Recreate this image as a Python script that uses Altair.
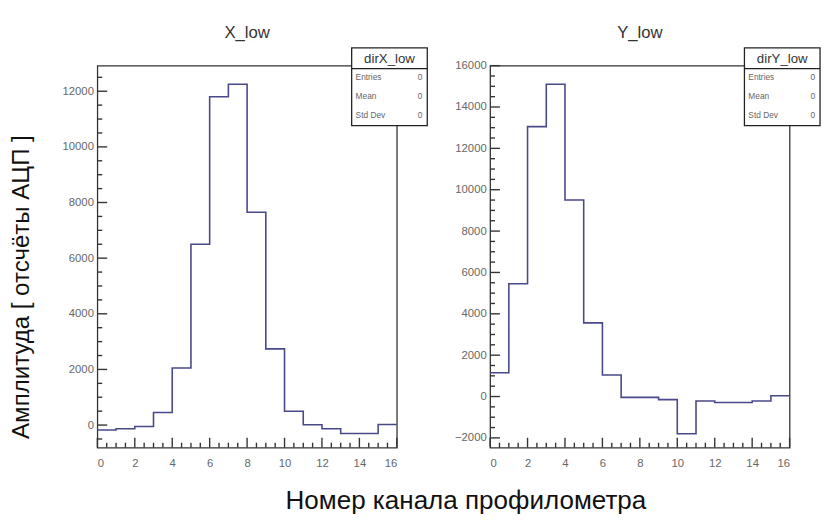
import altair as alt
import pandas as pd

# ---- data ----
edges = list(range(17))  # bin edges 0..16
x_low = [-180, -130, -50, 450, 2050, 6500, 11800, 12250, 7650, 2740, 500, 10, -130, -300, -300, 20]
y_low = [1150, 5450, 13050, 15100, 9500, 3560, 1040, -40, -40, -150, -1800, -220, -285, -285, -220, 40]

panel_titles = ["X_low", "Y_low"]
box_titles = ["dirX_low", "dirY_low"]
stat_names = ["Entries", "Mean", "Std Dev"]
stat_values = ["0", "0", "0"]

x_domain = [0, 16]
x_major = [0, 2, 4, 6, 8, 10, 12, 14, 16]
x_minor = [0.5, 1, 1.5, 2.5, 3, 3.5, 4.5, 5, 5.5, 6.5, 7, 7.5, 8.5, 9, 9.5,
           10.5, 11, 11.5, 12.5, 13, 13.5, 14.5, 15, 15.5]

left_domain = [-810, 12920]
left_major = [0, 2000, 4000, 6000, 8000, 10000, 12000]
left_minor = [-500, 500, 1000, 1500, 2500, 3000, 3500, 4500, 5000, 5500, 6500, 7000,
              7500, 8500, 9000, 9500, 10500, 11000, 11500, 12500]

right_domain = [-2470, 16000]
right_major = [-2000, 0, 2000, 4000, 6000, 8000, 10000, 12000, 14000, 16000]
right_minor = [-1500, -1000, -500, 500, 1000, 1500, 2500, 3000, 3500, 4500, 5000, 5500,
               6500, 7000, 7500, 8500, 9000, 9500, 10500, 11000, 11500, 12500, 13000,
               13500, 14500, 15000, 15500]

W, H = 305, 389
LINE = "#48488a"
TICK = "#333333"
FONT = "Liberation Sans"


def panel(values, ydom, ymaj, ymin, title, box_title, show_ytitle):
    df = pd.DataFrame({"edge": edges, "value": values + [values[-1]]})
    xs = alt.Scale(domain=x_domain, nice=False, zero=False)
    ys = alt.Scale(domain=ydom, nice=False, zero=False)

    xaxis = alt.Axis(values=x_major, format="d", title=None, labelOverlap=False,
                     labelPadding=10, labelFontSize=11.5, labelColor="#666", labelFont=FONT)
    if show_ytitle:
        yaxis = alt.Axis(values=ymaj, format="d", title="Амплитуда [ отсчёты АЦП ]",
                         titleX=-77, titleY=225, titleAngle=270, titleAlign="center",
                         titleBaseline="middle", titleFontSize=24.5, titleFont=FONT,
                         titleFontWeight="normal", titleColor="#111",
                         labelPadding=4, labelOverlap=False, labelFontSize=11.5,
                         labelColor="#666", labelFont=FONT)
    else:
        yaxis = alt.Axis(values=ymaj, format="d", title=None, labelPadding=4,
                         labelOverlap=False, labelFontSize=11.5, labelColor="#666",
                         labelFont=FONT)

    hist = alt.Chart(df).mark_line(interpolate="step-after", color=LINE, strokeWidth=1.6).encode(
        x=alt.X("edge:Q", scale=xs, axis=xaxis),
        y=alt.Y("value:Q", scale=ys, axis=yaxis),
    )

    ymaj_t = alt.Chart(pd.DataFrame({"value": ymaj})).mark_tick(
        orient="horizontal", color=TICK, thickness=1.4, size=10, opacity=1).encode(
        y=alt.Y("value:Q", scale=ys, axis=yaxis), x=alt.value(5))
    ymin_t = alt.Chart(pd.DataFrame({"value": ymin})).mark_tick(
        orient="horizontal", color=TICK, thickness=1.4, size=5, opacity=1).encode(
        y=alt.Y("value:Q", scale=ys, axis=yaxis), x=alt.value(2.5))
    xmaj_t = alt.Chart(pd.DataFrame({"edge": x_major})).mark_tick(
        orient="vertical", color=TICK, thickness=1.4, size=10, opacity=1).encode(
        x=alt.X("edge:Q", scale=xs, axis=xaxis), y=alt.value(H - 5))
    xmin_t = alt.Chart(pd.DataFrame({"edge": x_minor})).mark_tick(
        orient="vertical", color=TICK, thickness=1.4, size=5, opacity=1).encode(
        x=alt.X("edge:Q", scale=xs, axis=xaxis), y=alt.value(H - 2.5))

    bx0, bx1, by0, by1, bsep = 259, 336, -18, 61, 3
    one = pd.DataFrame({"name": [box_title]})
    box = alt.Chart(one).mark_rect(fill="white", stroke="#222", strokeWidth=1.3).encode(
        x=alt.value(bx0), x2=alt.value(bx1), y=alt.value(by0), y2=alt.value(by1))
    sep = alt.Chart(one).mark_rule(color="#222", strokeWidth=1.3).encode(
        x=alt.value(bx0), x2=alt.value(bx1), y=alt.value(bsep))
    head = alt.Chart(one).mark_text(fontSize=13.5, font=FONT, color="#333", align="center",
                                    baseline="middle").encode(
        text="name:N", x=alt.value((bx0 + bx1) / 2), y=alt.value(-7))
    names = alt.Chart(one).mark_text(fontSize=8.5, font=FONT, color="#666", align="left",
                                     baseline="middle", lineHeight=19).encode(
        text=alt.value(stat_names), x=alt.value(bx0 + 4), y=alt.value(12))
    vals = alt.Chart(one).mark_text(fontSize=8.5, font=FONT, color="#666", align="right",
                                    baseline="middle", lineHeight=19).encode(
        text=alt.value(stat_values), x=alt.value(bx1 - 5), y=alt.value(12))

    return alt.layer(hist, ymaj_t, ymin_t, xmaj_t, xmin_t, box, sep, head, names, vals).properties(
        width=W, height=H,
        title=alt.TitleParams(title, anchor="middle", offset=6, fontSize=17,
                              font=FONT, fontWeight="normal", color="#333"),
    )


left = panel(x_low, left_domain, left_major, left_minor, panel_titles[0], box_titles[0], True)
right = panel(y_low, right_domain, right_major, right_minor, panel_titles[1], box_titles[1], False)

chart = alt.hconcat(left, right, spacing=25).properties(
    padding={"left": 0, "top": 10, "right": 0, "bottom": 0},
    title=alt.TitleParams("Номер канала профилометра", orient="bottom", anchor="middle",
                          offset=19, dx=52, fontSize=26.5, font=FONT, fontWeight="normal",
                          color="#111"),
).configure_view(stroke="#333", strokeWidth=1.3).configure_axis(
    domain=False, ticks=False, tickSize=0, grid=False, labelFont=FONT, labelFontSize=11.5,
    labelColor="#666", labelOverlap=False,
)

chart.save("out.html", embed_options={"renderer": "svg", "actions": False})
